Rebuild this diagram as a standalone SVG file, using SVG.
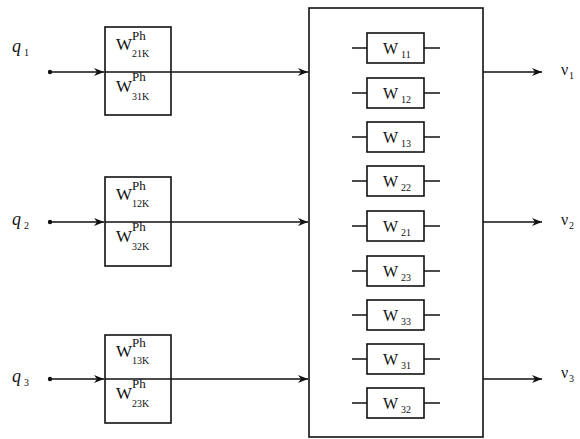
<svg xmlns="http://www.w3.org/2000/svg" width="580" height="439" viewBox="0 0 580 439">
<style>
.box{fill:none;stroke:#111;stroke-width:1.6}
.ln{stroke:#111;stroke-width:1.6;fill:none}
.t{font-family:"Liberation Serif","Times New Roman",serif;fill:#111}
.W{font-size:17px}
.sup{font-size:13px}
.sub{font-size:10px}
.q{font-family:"Liberation Serif",serif;font-style:italic;font-size:18px;fill:#111}
.qs{font-family:"Liberation Serif",serif;font-size:10px;fill:#111}
.ww{font-size:16px}
.ws{font-size:10px}
.wb{fill:#fff;stroke:#111;stroke-width:1.6}
</style>
<defs>
<marker id="ah" markerWidth="10" markerHeight="8" refX="10" refY="4" orient="auto" markerUnits="userSpaceOnUse">
<path d="M0,0 L10,4 L0,8 L3,4 Z" fill="#111"/>
</marker>
</defs>
<rect width="580" height="439" fill="#fff"/>

<g id="connectors">
<line class="ln" x1="50" y1="72" x2="104" y2="72" marker-end="url(#ah)"/>
<line class="ln" x1="105" y1="72" x2="308" y2="72" marker-end="url(#ah)"/>
<line class="ln" x1="50" y1="222" x2="104" y2="222" marker-end="url(#ah)"/>
<line class="ln" x1="105" y1="222" x2="308" y2="222" marker-end="url(#ah)"/>
<line class="ln" x1="50" y1="379" x2="104" y2="379" marker-end="url(#ah)"/>
<line class="ln" x1="105" y1="379" x2="308" y2="379" marker-end="url(#ah)"/>
<line class="ln" x1="483" y1="72" x2="542" y2="72" marker-end="url(#ah)"/>
<line class="ln" x1="483" y1="222" x2="542" y2="222" marker-end="url(#ah)"/>
<line class="ln" x1="483" y1="379" x2="542" y2="379" marker-end="url(#ah)"/>
<circle cx="50" cy="72" r="2.2" fill="#111"/>
<circle cx="50" cy="222" r="2.2" fill="#111"/>
<circle cx="50" cy="379" r="2.2" fill="#111"/>
</g>

<g id="q1"><text class="q" x="12" y="52">q</text><text class="qs" x="24" y="56">1</text></g>
<g id="q2"><text class="q" x="12" y="225">q</text><text class="qs" x="24" y="229">2</text></g>
<g id="q3"><text class="q" x="12" y="382">q</text><text class="qs" x="24" y="386">3</text></g>

<g id="in1">
<rect class="box" x="105" y="27" width="66" height="88"/>
<text class="t W" x="116" y="50">W</text><text class="t sup" x="132" y="40">Ph</text><text class="t sub" x="132" y="57">21K</text>
<text class="t W" x="116" y="92">W</text><text class="t sup" x="132" y="81">Ph</text><text class="t sub" x="132" y="100">31K</text>
</g>
<g id="in2">
<rect class="box" x="105" y="177" width="66" height="89"/>
<text class="t W" x="116" y="200">W</text><text class="t sup" x="132" y="190">Ph</text><text class="t sub" x="132" y="207">12K</text>
<text class="t W" x="116" y="242">W</text><text class="t sup" x="132" y="231">Ph</text><text class="t sub" x="132" y="250">32K</text>
</g>
<g id="in3">
<rect class="box" x="105" y="335" width="66" height="88"/>
<text class="t W" x="116" y="357">W</text><text class="t sup" x="132" y="347">Ph</text><text class="t sub" x="132" y="364">13K</text>
<text class="t W" x="116" y="399">W</text><text class="t sup" x="132" y="388">Ph</text><text class="t sub" x="132" y="407">23K</text>
</g>

<g id="main">
<rect class="box" x="309" y="8" width="174" height="429"/>
</g>

<g id="w11"><line class="ln" x1="352" y1="48" x2="440" y2="48"/><rect class="wb" x="367" y="33" width="57" height="30"/><text class="t ww" x="383" y="54">W</text><text class="t ws" x="401" y="58">11</text></g>
<g id="w12"><line class="ln" x1="352" y1="93" x2="440" y2="93"/><rect class="wb" x="367" y="78" width="57" height="30"/><text class="t ww" x="383" y="99">W</text><text class="t ws" x="401" y="103">12</text></g>
<g id="w13"><line class="ln" x1="352" y1="137" x2="440" y2="137"/><rect class="wb" x="367" y="122" width="57" height="30"/><text class="t ww" x="383" y="143">W</text><text class="t ws" x="401" y="147">13</text></g>
<g id="w22"><line class="ln" x1="352" y1="181" x2="440" y2="181"/><rect class="wb" x="367" y="166" width="57" height="30"/><text class="t ww" x="383" y="187">W</text><text class="t ws" x="401" y="191">22</text></g>
<g id="w21"><line class="ln" x1="352" y1="226" x2="440" y2="226"/><rect class="wb" x="367" y="211" width="57" height="30"/><text class="t ww" x="383" y="232">W</text><text class="t ws" x="401" y="236">21</text></g>
<g id="w23"><line class="ln" x1="352" y1="271" x2="440" y2="271"/><rect class="wb" x="367" y="256" width="57" height="30"/><text class="t ww" x="383" y="277">W</text><text class="t ws" x="401" y="281">23</text></g>
<g id="w33"><line class="ln" x1="352" y1="315" x2="440" y2="315"/><rect class="wb" x="367" y="300" width="57" height="30"/><text class="t ww" x="383" y="321">W</text><text class="t ws" x="401" y="325">33</text></g>
<g id="w31"><line class="ln" x1="352" y1="359" x2="440" y2="359"/><rect class="wb" x="367" y="344" width="57" height="30"/><text class="t ww" x="383" y="365">W</text><text class="t ws" x="401" y="369">31</text></g>
<g id="w32"><line class="ln" x1="352" y1="403" x2="440" y2="403"/><rect class="wb" x="367" y="388" width="57" height="30"/><text class="t ww" x="383" y="409">W</text><text class="t ws" x="401" y="413">32</text></g>

<g id="v1"><text class="t" style="font-size:16px" x="561" y="75">ν</text><text class="qs" x="569" y="79">1</text></g>
<g id="v2"><text class="t" style="font-size:16px" x="561" y="225">ν</text><text class="qs" x="569" y="229">2</text></g>
<g id="v3"><text class="t" style="font-size:16px" x="561" y="378">ν</text><text class="qs" x="569" y="382">3</text></g>
</svg>
